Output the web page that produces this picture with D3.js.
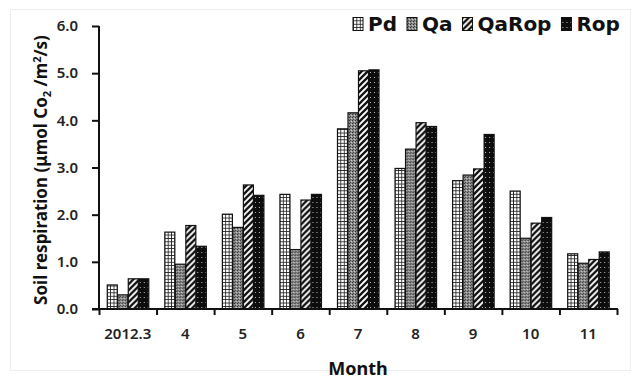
<!DOCTYPE html>
<html>
<head>
<meta charset="UTF-8">
<title>Soil respiration</title>
<script src="https://d3js.org/d3.v7.min.js"></script>
<style>
  body { margin: 0; background: #fff; }
  text { font-family: "Noto Sans", "DejaVu Sans", sans-serif; }
</style>
</head>
<body>
<script>
// data
var months = ["2012.3", "4", "5", "6", "7", "8", "9", "10", "11"];
var seriesNames = ["Pd", "Qa", "QaRop", "Rop"];
var pd    = [0.51, 1.63, 2.01, 2.43, 3.82, 2.98, 2.72, 2.50, 1.17];
var qa    = [0.30, 0.95, 1.73, 1.26, 4.16, 3.39, 2.84, 1.50, 0.97];
var qarop = [0.64, 1.77, 2.63, 2.31, 5.05, 3.95, 2.97, 1.82, 1.05];
var rop   = [0.64, 1.33, 2.41, 2.43, 5.07, 3.87, 3.70, 1.94, 1.21];
var yTicks = [0, 1, 2, 3, 4, 5, 6];

var values = [pd, qa, qarop, rop];
var patternIds = ["pGrid", "pDots", "pDiag", "pBlack"];

var W = 640, H = 380;
var plotLeft = 99, plotRight = 617, plotTop = 26, plotBottom = 309;

var svg = d3.select("body").append("svg")
  .attr("width", W).attr("height", H);

// faint frame
svg.append("rect")
  .attr("x", 10.5).attr("y", 9.5).attr("width", 620).attr("height", 361)
  .attr("fill", "none").attr("stroke", "#eeeeee");

// fill patterns
var defs = svg.append("defs");

var pg = defs.append("pattern").attr("id", "pGrid")
  .attr("patternUnits", "userSpaceOnUse").attr("width", 3.4).attr("height", 3.4);
pg.append("rect").attr("width", 3.4).attr("height", 3.4).attr("fill", "#fff");
pg.append("path").attr("d", "M0,0.4H3.4M0.4,0V3.4")
  .attr("stroke", "#222").attr("stroke-width", 0.9);

var pq = defs.append("pattern").attr("id", "pDots")
  .attr("patternUnits", "userSpaceOnUse").attr("width", 3).attr("height", 3);
pq.append("rect").attr("width", 3).attr("height", 3).attr("fill", "#8c8c8c");
pq.append("rect").attr("width", 1).attr("height", 1).attr("fill", "#2e2e2e");
pq.append("rect").attr("x", 2).attr("y", 1).attr("width", 1).attr("height", 1).attr("fill", "#d0d0d0");
pq.append("rect").attr("x", 1).attr("y", 2).attr("width", 1).attr("height", 1).attr("fill", "#444");

var pdg = defs.append("pattern").attr("id", "pDiag")
  .attr("patternUnits", "userSpaceOnUse").attr("width", 6).attr("height", 6);
pdg.append("rect").attr("width", 6).attr("height", 6).attr("fill", "#fff");
pdg.append("path").attr("d", "M-1,7L7,-1M-4,4L4,-4M2,10L10,2")
  .attr("stroke", "#111").attr("stroke-width", 2.3);

var pb = defs.append("pattern").attr("id", "pBlack")
  .attr("patternUnits", "userSpaceOnUse").attr("width", 4).attr("height", 5);
pb.append("rect").attr("width", 4).attr("height", 5).attr("fill", "#0d0d0d");
pb.append("rect").attr("x", 1).attr("y", 2).attr("width", 1).attr("height", 1).attr("fill", "#bbb");

// scales
var x = d3.scaleBand().domain(months).range([plotLeft, plotRight])
  .paddingInner(0.27).paddingOuter(0.135);
var x1 = d3.scaleBand().domain(seriesNames).range([0, x.bandwidth()]);
var y = d3.scaleLinear().domain([0, 6]).range([plotBottom, plotTop]);
var xb = d3.scaleLinear().domain([0, months.length]).range([plotLeft, plotRight]);

// bars
var groups = svg.append("g").selectAll("g")
  .data(months).join("g")
  .attr("transform", function(d) { return "translate(" + x(d) + ",0)"; });

groups.selectAll("rect")
  .data(function(d, i) {
    return seriesNames.map(function(s, j) { return {s: s, j: j, v: values[j][i]}; });
  })
  .join("rect")
  .attr("x", function(d) { return x1(d.s) + 0.5; })
  .attr("y", function(d) { return y(d.v); })
  .attr("width", x1.bandwidth() - 0.5)
  .attr("height", function(d) { return y(0) - y(d.v); })
  .attr("fill", function(d) { return "url(#" + patternIds[d.j] + ")"; })
  .attr("stroke", "#111").attr("stroke-width", 1.2);

// y axis
var yAxis = svg.append("g")
  .attr("transform", "translate(" + plotLeft + ",0)")
  .call(d3.axisLeft(y).tickValues(yTicks).tickFormat(d3.format(".1f"))
    .tickSize(7).tickPadding(14));
yAxis.selectAll("text").attr("font-size", 15).attr("font-weight", 600).attr("fill", "#222")
  .style("font-family", "'Noto Sans', sans-serif");

// x axis: boundary ticks and centered labels
var xAxis = svg.append("g")
  .attr("transform", "translate(0," + plotBottom + ")")
  .call(d3.axisBottom(xb).ticks(months.length).tickFormat("").tickSize(6));
svg.append("g")
  .attr("transform", "translate(0," + plotBottom + ")")
  .call(d3.axisBottom(x).tickSize(0).tickPadding(19))
  .call(function(g) { g.select(".domain").remove(); })
  .selectAll("text").attr("font-size", 15).attr("font-weight", 600).attr("fill", "#222")
  .style("font-family", "'Noto Sans', sans-serif");

svg.selectAll(".domain").attr("stroke", "#111").attr("stroke-width", 2);
svg.selectAll(".tick line").attr("stroke", "#111").attr("stroke-width", 2);
yAxis.select(".domain").attr("d", "M0," + plotTop + "V" + (plotBottom + 1));
xAxis.select(".domain").attr("d", "M" + (plotLeft - 7) + ",0H" + (plotRight + 1));

// axis titles
svg.append("text")
  .attr("x", (plotLeft + plotRight) / 2).attr("y", 375)
  .attr("text-anchor", "middle")
  .attr("font-size", 18).attr("font-weight", "bold").attr("fill", "#111")
  .text("Month");

var yl = svg.append("text")
  .attr("transform", "translate(47,170) rotate(-90)")
  .attr("text-anchor", "middle")
  .attr("font-size", 17).attr("font-weight", "bold").attr("fill", "#111");
yl.append("tspan").text("Soil respiration (\u03bcmol Co");
yl.append("tspan").attr("font-size", 11).attr("dy", 4).text("2");
yl.append("tspan").attr("dy", -4).text(" /m");
yl.append("tspan").attr("font-size", 11).attr("dy", -6).text("2");
yl.append("tspan").attr("dy", 6).text("/s)");

// legend, laid out left to right
var legend = svg.append("g");
var items = legend.selectAll("g").data(seriesNames).join("g");
items.append("rect")
  .attr("width", 10).attr("height", 13).attr("y", 17.5)
  .attr("fill", function(d, i) { return "url(#" + patternIds[i] + ")"; })
  .attr("stroke", "#111").attr("stroke-width", 1);
items.append("text")
  .attr("x", 15).attr("y", 31)
  .attr("font-size", 20).attr("font-weight", "bold").attr("fill", "#111")
  .style("font-family", "'DejaVu Sans', sans-serif")
  .text(function(d) { return d; });

var xpos = 353;
items.each(function() {
  var g = d3.select(this);
  g.attr("transform", "translate(" + xpos + ",0)");
  var w = g.select("text").node().getComputedTextLength();
  xpos += 15 + w + 10;
});
</script>
</body>
</html>
